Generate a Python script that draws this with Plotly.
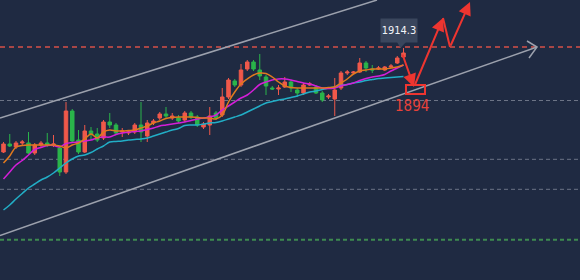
import plotly.graph_objects as go

# ---------------- data ----------------
idx = list(range(65))
open_ = [1861.5,1865.5,1864,1866,1866,1861,1865,1866,1865,1863.5,
         1851.5,1882,1867.5,1861.5,1872,1870.5,1868.5,1876.5,1875,1871.5,
         1871,1871.5,1875,1869.5,1876,1878.5,1880.5,1878.5,1878.5,1877.5,
         1881,1879,1874,1875,1881,1880,1889,1897,1895,1903,
         1906.5,1902.5,1899,1893.5,1893,1894,1896.5,1892.5,1891,1895,
         1894,1891,1889,1888,1893.5,1901,1901,1901.5,1906,1903,
         1903,1902.5,1904,1906,1909]
high = [1866.5,1870.5,1867,1867.5,1871.5,1866,1867,1871,1870,1864.5,
        1886.5,1883,1872.5,1875,1874,1873.5,1877.5,1881,1876,1873.5,
        1872.5,1876,1886.5,1877.5,1878,1881.5,1884,1881,1880,1882,
        1882,1880,1876.5,1884,1882,1893.5,1898.5,1898,1905.5,1907.5,
        1907.5,1910.5,1900,1894.5,1895,1899,1897.5,1893.5,1896,1896.5,
        1895,1892,1890.5,1898.5,1902,1902.5,1902,1908.5,1907,1905,
        1904.5,1904.5,1905.5,1909.5,1913.5]
low = [1861,1864,1863,1864.5,1860.5,1860,1864,1864,1864,1849.5,
       1850.5,1866,1860.5,1861,1867.5,1866.5,1867.5,1873.5,1870,1869,
       1870,1870.5,1866.5,1866.5,1875,1877.5,1878.5,1877.5,1876,1876.5,
       1878,1874,1873,1870,1877.5,1879,1888,1894,1894,1902,
       1902,1897.5,1890,1892.5,1890,1893.5,1891.5,1889,1890,1894.5,
       1890.5,1886.5,1888,1879.5,1892.5,1900,1900.5,1901,1901.5,1901,
       1902.5,1902,1903.5,1905.5,1908]
close = [1865.5,1864.5,1866,1866.5,1861,1865,1866,1865,1865.5,1851.5,
         1882,1867,1861.5,1872,1870.5,1867.5,1876.5,1875,1871,1872,
         1871.5,1875,1871.5,1876,1877,1880.5,1879.5,1879.5,1877,1881,
         1879,1875,1875.5,1879.5,1878.5,1889,1897.5,1895,1902.5,1906.5,
         1903,1899.5,1894.5,1893,1893.5,1896.5,1893.5,1891,1895,1895.5,
         1891,1887.5,1889.5,1892.5,1901,1901.5,1901.5,1906,1903.5,1902.5,
         1903.5,1904,1904.5,1908.5,1911]

ma_fast = [1856,1859.5,1864,1864.75,1865,1865,1865,1865,1865,1864.5,
           1863.5,1865,1866,1868,1870.5,1868.5,1871.5,1872.5,1872,1872,
           1872.25,1872.5,1873.5,1874.5,1876,1877,1878.25,1878.75,1879,1879,
           1879,1878.75,1878.5,1878.5,1878,1880,1886.5,1891.5,1895.5,1898,
           1900,1901,1900.75,1899,1896.5,1894.5,1893.75,1893.5,1893.5,1893.5,
           1893.5,1893.5,1893.75,1894,1896,1898,1900.5,1902,1902.5,1903,
           1903,1903,1903.5,1904,1905]
ma_mid = [1848,1851.5,1855,1857.25,1860,1862.75,1863.75,1864.75,1864.75,1864,
          1865.75,1866.25,1866.5,1867,1867.5,1868.5,1869,1869,1870.25,1871,
          1871.5,1871.75,1872,1872.75,1873.5,1874.5,1875,1875.5,1876,1876.5,
          1877.25,1878,1878.5,1879,1880,1882.5,1884.5,1886.5,1888.5,1890,
          1892.5,1895.25,1896.5,1897.5,1898,1898,1897.5,1896.75,1896,1895.5,
          1894.5,1893.5,1893.25,1893.5,1894.5,1895.25,1896,1897.25,1898.25,1899,
          1899.5,1900.25,1902,1903.5,1905]
ma_slow = [1832.5,1835,1838,1840.75,1843.5,1845.5,1847.5,1849,1851,1853.5,
           1856,1858,1859.5,1860,1861.25,1863,1864.5,1866.5,1866.75,1867,
           1867.5,1867.75,1868,1868.5,1869.5,1870.5,1871.5,1872.5,1873.25,1874.75,
           1875,1875,1875.5,1876,1876.25,1877,1878,1879,1880,1881.5,
           1883,1884.5,1886,1886.75,1887.5,1888,1888.75,1889.5,1890.5,1891.5,
           1892,1892.75,1893.5,1894,1894.75,1895.25,1896,1896.5,1897.25,1897.75,
           1898.25,1898.5,1898.75,1899,1899.25]

level_red = 1914.0
levels_gray = [1887.25, 1857.85, 1842.85]
level_green = 1817.65

upper_x = [-0.56, 59.76]
upper_y = [1878.5, 1937.5]
lower_x = [-0.56, 85.36]
lower_y = [1819.75, 1914.0]
chevron_x = [83.76, 85.36, 84.08]
chevron_y = [1917.0, 1914.0, 1908.5]

path_x = [63.76, 65.68, 70.32, 71.44, 74.64]
path_y = [1911.0, 1894.0, 1928.5, 1914.0, 1936.5]

box_x = [64.4, 67.44]
box_y = [1890.5, 1895.0]
target_text = "1894"
target_pos = (65.28, 1884.5)
last_text = "1914.3"
last_pos = (63.28, 1922.25)
pointer_x = [62.96, 64.4, 63.52]
pointer_y = [1916.5, 1916.5, 1913.5]

# ---------------- style ----------------
BG = "#1f2a42"
UP = "#f0584a"
DOWN = "#2ab44a"
ARROW_RED = "#ee3530"
NARROW = "DejaVu Sans Condensed, Liberation Sans Narrow, Roboto, sans-serif"

fig = go.Figure()

fig.add_trace(go.Candlestick(
    x=idx, open=open_, high=high, low=low, close=close,
    increasing=dict(line=dict(color=UP, width=1), fillcolor=UP),
    decreasing=dict(line=dict(color=DOWN, width=1), fillcolor=DOWN),
    whiskerwidth=0, showlegend=False, hoverinfo="skip"))

for vals, col in [(ma_slow, "#22aec6"), (ma_mid, "#d41ed8"), (ma_fast, "#e07a1e")]:
    fig.add_trace(go.Scatter(x=idx, y=vals, mode="lines",
                             line=dict(color=col, width=1.5, shape="spline"),
                             showlegend=False, hoverinfo="skip"))

shapes = []
shapes.append(dict(type="line", xref="paper", x0=0, x1=1, y0=level_red, y1=level_red,
                   line=dict(color="#a84646", width=2, dash="5px,4px"), layer="below"))
for lv in levels_gray:
    shapes.append(dict(type="line", xref="paper", x0=0, x1=1, y0=lv, y1=lv,
                       line=dict(color="#6c7486", width=1, dash="4px,3px"), layer="below"))
shapes.append(dict(type="line", xref="paper", x0=0, x1=1, y0=level_green, y1=level_green,
                   line=dict(color="#3e8a50", width=2, dash="4px,3px"), layer="below"))
shapes.append(dict(type="line", x0=upper_x[0], x1=upper_x[1], y0=upper_y[0], y1=upper_y[1],
                   line=dict(color="#9ca1ad", width=1.5), layer="below"))
shapes.append(dict(type="line", x0=lower_x[0], x1=lower_x[1], y0=lower_y[0], y1=lower_y[1],
                   line=dict(color="#9ca1ad", width=1.5), layer="below"))
shapes.append(dict(type="path",
                   path=f"M {chevron_x[0]},{chevron_y[0]} L {chevron_x[1]},{chevron_y[1]} L {chevron_x[2]},{chevron_y[2]}",
                   line=dict(color="#9ca1ad", width=1.5)))
shapes.append(dict(type="rect", x0=box_x[0], x1=box_x[1], y0=box_y[0], y1=box_y[1],
                   line=dict(color=ARROW_RED, width=2)))
shapes.append(dict(type="path",
                   path=f"M {pointer_x[0]},{pointer_y[0]} L {pointer_x[1]},{pointer_y[1]} L {pointer_x[2]},{pointer_y[2]} Z",
                   fillcolor="#3a465d", line=dict(width=0)))
shapes.append(dict(type="line", x0=path_x[2], x1=path_x[3], y0=path_y[2], y1=path_y[3],
                   line=dict(color=ARROW_RED, width=2)))

annotations = []
for (x0, y0, x1, y1) in [(path_x[0], path_y[0], path_x[1], path_y[1]),
                         (path_x[1], path_y[1], path_x[2], path_y[2]),
                         (path_x[3], path_y[3], path_x[4], path_y[4])]:
    annotations.append(dict(x=x1, y=y1, ax=x0, ay=y0, xref="x", yref="y",
                            axref="x", ayref="y", text="", showarrow=True,
                            arrowhead=2, arrowsize=1.3, arrowwidth=2,
                            arrowcolor=ARROW_RED, standoff=0, startstandoff=0))
annotations.append(dict(x=target_pos[0], y=target_pos[1], text=target_text, showarrow=False,
                        font=dict(family=NARROW, size=15, color="#e8423a")))
annotations.append(dict(x=last_pos[0], y=last_pos[1], text=last_text, showarrow=False,
                        font=dict(family=NARROW, size=11, color="#f2f4f8"),
                        bgcolor="#3a465d", width=34, height=21, borderpad=1))

fig.update_layout(
    width=580, height=280, margin=dict(l=0, r=0, t=0, b=0),
    paper_bgcolor=BG, plot_bgcolor=BG,
    xaxis=dict(visible=False, range=[-0.56, 92.24], rangeslider=dict(visible=False), fixedrange=True),
    yaxis=dict(visible=False, range=[1797.5, 1937.5], fixedrange=True),
    boxgap=0.2,
    shapes=shapes, annotations=annotations,
    showlegend=False,
)

fig.write_html("out.html", config={"displayModeBar": False})
